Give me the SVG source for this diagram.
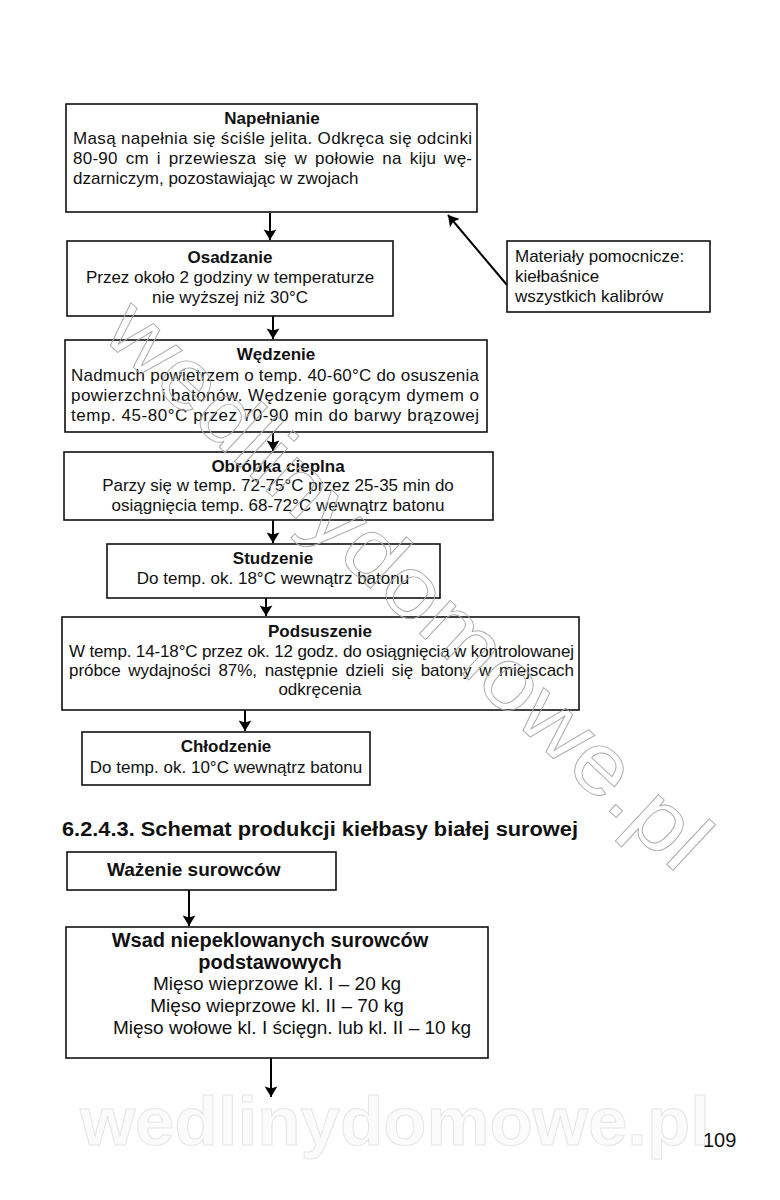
<svg xmlns="http://www.w3.org/2000/svg" width="780" height="1200" viewBox="0 0 780 1200">
<defs>
<marker id="ah" viewBox="0 0 10 16" refX="10" refY="8" markerWidth="11" markerHeight="17" markerUnits="userSpaceOnUse" orient="auto">
<path d="M0,2 L10,8 L0,14 L2,8 Z" fill="#000"/>
</marker>
<style>
.box{fill:#fff;stroke:#111;stroke-width:1.6}
text{font-family:"Liberation Sans",Arial,sans-serif;fill:#111}
.t{font-size:17px}
.b{font-size:17px;font-weight:bold}
.c{text-anchor:middle}
.big{font-size:19px}
.bigb{font-size:20px;font-weight:bold}
.con{stroke:#000;stroke-width:2;fill:none}
.wm{font-family:"Liberation Sans",Arial,sans-serif;font-size:86px;fill:none;stroke:#aaaaaa;stroke-width:0.9}
</style>
</defs>
<rect width="780" height="1200" fill="#fff"/>
<text x="395" y="1145" text-anchor="middle" style="font-family:'Liberation Sans',Arial,sans-serif;font-size:68px;font-weight:bold;fill:#fbfbfb;stroke:#e6e6e6;stroke-width:1" textLength="630" lengthAdjust="spacingAndGlyphs">wedlinydomowe.pl</text>
<g id="connectors">
<line class="con" x1="270" y1="213" x2="270" y2="240" marker-end="url(#ah)"/>
<line class="con" x1="507" y1="285" x2="448" y2="215" marker-end="url(#ah)"/>
<line class="con" x1="273" y1="316" x2="273" y2="339" marker-end="url(#ah)"/>
<line class="con" x1="273" y1="432" x2="273" y2="451" marker-end="url(#ah)"/>
<line class="con" x1="273" y1="520" x2="273" y2="543" marker-end="url(#ah)"/>
<line class="con" x1="266" y1="598" x2="266" y2="616" marker-end="url(#ah)"/>
<line class="con" x1="245" y1="710" x2="245" y2="731" marker-end="url(#ah)"/>
<line class="con" x1="189" y1="890" x2="189" y2="926" marker-end="url(#ah)"/>
<line class="con" x1="271" y1="1058" x2="271" y2="1097" marker-end="url(#ah)"/>
</g>
<g id="napelnianie">
<rect class="box" x="66" y="104" width="411" height="108"/>
<text class="b c" x="272" y="124">Napełnianie</text>
<text class="t" x="73" y="144" textLength="399">Masą napełnia się ściśle jelita. Odkręca się odcinki</text>
<text class="t" x="73" y="164" textLength="399" style="word-spacing:3px">80-90 cm i przewiesza  się w połowie  na  kiju  wę-</text>
<text class="t" x="73" y="184">dzarniczym, pozostawiając w zwojach</text>
</g>
<g id="osadzanie">
<rect class="box" x="67" y="241" width="326" height="75"/>
<text class="b c" x="230" y="263">Osadzanie</text>
<text class="t c" x="230" y="283">Przez około 2 godziny w temperaturze</text>
<text class="t c" x="230" y="303">nie wyższej niż 30°C</text>
</g>
<g id="materialy">
<rect class="box" x="507" y="241" width="203" height="71"/>
<text class="t" x="515" y="262">Materiały pomocnicze:</text>
<text class="t" x="515" y="282">kiełbaśnice</text>
<text class="t" x="515" y="302">wszystkich kalibrów</text>
</g>
<g id="wedzenie">
<rect class="box" x="65" y="340" width="422" height="92"/>
<text class="b c" x="276" y="360">Wędzenie</text>
<text class="t" x="71" y="381" textLength="408">Nadmuch powietrzem o temp. 40-60°C do osuszenia</text>
<text class="t" x="71" y="401" textLength="408">powierzchni batonów. Wędzenie gorącym dymem o</text>
<text class="t" x="71" y="421" textLength="408">temp. 45-80°C przez 70-90 min do barwy brązowej</text>
</g>
<g id="obrobka">
<rect class="box" x="64" y="452" width="429" height="68"/>
<text class="b c" x="278" y="472">Obróbka cieplna</text>
<text class="t c" x="278" y="491">Parzy się w temp. 72-75°C przez 25-35 min do</text>
<text class="t c" x="278" y="511">osiągnięcia temp. 68-72°C wewnątrz batonu</text>
</g>
<g id="studzenie">
<rect class="box" x="107" y="544" width="333" height="54"/>
<text class="b c" x="273" y="564">Studzenie</text>
<text class="t c" x="273" y="584">Do temp. ok. 18°C wewnątrz batonu</text>
</g>
<g id="podsuszenie">
<rect class="box" x="62" y="617" width="517" height="93"/>
<text class="b c" x="320" y="637">Podsuszenie</text>
<text class="t" x="69" y="657" textLength="505">W temp. 14-18°C przez ok. 12 godz. do osiągnięcia w kontrolowanej</text>
<text class="t" x="69" y="676" textLength="505" style="word-spacing:3px">próbce wydajności  87%, następnie dzieli się batony w miejscach</text>
<text class="t c" x="320" y="695">odkręcenia</text>
</g>
<g id="chlodzenie">
<rect class="box" x="82" y="732" width="288" height="53"/>
<text class="b c" x="226" y="752">Chłodzenie</text>
<text class="t c" x="226" y="773">Do temp. ok. 10°C wewnątrz batonu</text>
</g>
<text x="62" y="836" style="font-size:20px;font-weight:bold" textLength="516" lengthAdjust="spacingAndGlyphs">6.2.4.3. Schemat produkcji kiełbasy białej surowej</text>
<g id="wazenie">
<rect class="box" x="67" y="852" width="269" height="38"/>
<text class="bigb" x="107" y="876" style="font-size:19px">Ważenie surowców</text>
</g>
<g id="wsad">
<rect class="box" x="66" y="927" width="422" height="131"/>
<text class="bigb c" x="270" y="947">Wsad niepeklowanych surowców</text>
<text class="bigb c" x="270" y="969">podstawowych</text>
<text class="big c" x="277" y="990">Mięso wieprzowe kl. I – 20 kg</text>
<text class="big c" x="277" y="1012">Mięso wieprzowe kl. II – 70 kg</text>
<text class="big c" x="292" y="1034">Mięso wołowe kl. I ścięgn. lub kl. II – 10 kg</text>
</g>
<text x="703" y="1147" style="font-size:20px">109</text>
<text class="wm" transform="translate(100,336) rotate(43)" textLength="790" lengthAdjust="spacingAndGlyphs">wedlinydomowe.pl</text>
</svg>
